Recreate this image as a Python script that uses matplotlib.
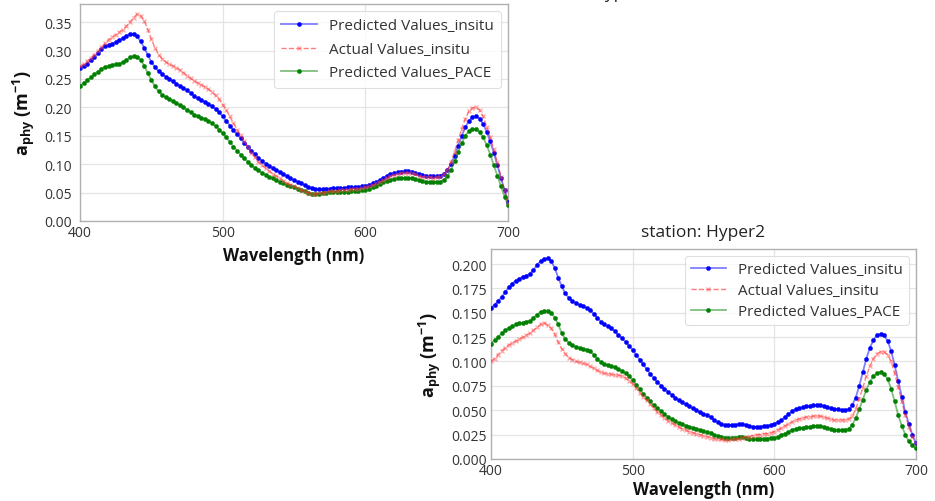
import matplotlib
matplotlib.use("Agg")
import matplotlib.pyplot as plt
import matplotlib.ticker as mticker
import numpy as np

plt.rcParams['font.family'] = ['Open Sans', 'DejaVu Sans']
plt.rcParams['mathtext.default'] = 'regular'

wavelength = np.arange(400, 700.1, 2.5)

# Upper panel (station cropped at top)
top_pred_insitu = [
    0.270, 0.273, 0.277, 0.283, 0.289, 0.295, 0.303, 0.308, 0.310, 0.312,
    0.315, 0.318, 0.322, 0.326, 0.329, 0.330, 0.325, 0.316, 0.305, 0.292,
    0.280, 0.271, 0.264, 0.259, 0.254, 0.250, 0.246, 0.242, 0.238, 0.234,
    0.230, 0.225, 0.220, 0.216, 0.213, 0.210, 0.206, 0.202, 0.197, 0.191,
    0.184, 0.176, 0.168, 0.160, 0.153, 0.146, 0.138, 0.131, 0.124, 0.118,
    0.111, 0.106, 0.101, 0.097, 0.093, 0.089, 0.086, 0.082, 0.079, 0.075,
    0.072, 0.069, 0.066, 0.063, 0.060, 0.058, 0.057, 0.056, 0.056, 0.057,
    0.057, 0.058, 0.058, 0.058, 0.058, 0.059, 0.059, 0.059, 0.060, 0.061,
    0.062, 0.064, 0.066, 0.069, 0.072, 0.076, 0.079, 0.082, 0.084, 0.086,
    0.087, 0.088, 0.088, 0.087, 0.085, 0.083, 0.081, 0.080, 0.079, 0.079,
    0.079, 0.080, 0.083, 0.089, 0.100, 0.115, 0.132, 0.150, 0.165, 0.176,
    0.183, 0.185, 0.180, 0.171, 0.157, 0.140, 0.120, 0.098, 0.076, 0.054,
    0.033]
top_actual_insitu = [
    0.272, 0.276, 0.281, 0.287, 0.293, 0.299, 0.306, 0.313, 0.319, 0.324,
    0.328, 0.332, 0.337, 0.343, 0.350, 0.358, 0.364, 0.361, 0.352, 0.337,
    0.320, 0.305, 0.293, 0.286, 0.280, 0.276, 0.273, 0.270, 0.266, 0.261,
    0.256, 0.251, 0.247, 0.243, 0.240, 0.236, 0.232, 0.227, 0.221, 0.214,
    0.205, 0.195, 0.184, 0.172, 0.161, 0.151, 0.140, 0.130, 0.120, 0.112,
    0.104, 0.098, 0.093, 0.088, 0.083, 0.079, 0.075, 0.071, 0.067, 0.064,
    0.061, 0.058, 0.055, 0.052, 0.050, 0.048, 0.048, 0.049, 0.050, 0.051,
    0.052, 0.053, 0.053, 0.054, 0.055, 0.055, 0.056, 0.057, 0.057, 0.058,
    0.059, 0.061, 0.063, 0.066, 0.069, 0.073, 0.076, 0.079, 0.081, 0.083,
    0.084, 0.085, 0.085, 0.084, 0.082, 0.080, 0.078, 0.077, 0.077, 0.076,
    0.077, 0.078, 0.082, 0.090, 0.104, 0.122, 0.142, 0.162, 0.180, 0.193,
    0.199, 0.200, 0.195, 0.184, 0.166, 0.147, 0.126, 0.103, 0.078, 0.054,
    0.031]
top_pred_pace = [
    0.238, 0.243, 0.248, 0.253, 0.258, 0.263, 0.268, 0.271, 0.273, 0.275,
    0.276, 0.277, 0.279, 0.283, 0.288, 0.290, 0.289, 0.284, 0.273, 0.260,
    0.248, 0.237, 0.228, 0.222, 0.218, 0.214, 0.211, 0.208, 0.204, 0.200,
    0.195, 0.191, 0.187, 0.184, 0.182, 0.179, 0.176, 0.172, 0.167, 0.161,
    0.154, 0.147, 0.139, 0.131, 0.124, 0.117, 0.110, 0.104, 0.098, 0.093,
    0.089, 0.085, 0.081, 0.078, 0.075, 0.072, 0.069, 0.066, 0.064, 0.061,
    0.059, 0.057, 0.055, 0.052, 0.050, 0.048, 0.048, 0.048, 0.049, 0.050,
    0.051, 0.051, 0.051, 0.051, 0.051, 0.051, 0.052, 0.052, 0.053, 0.054,
    0.055, 0.057, 0.059, 0.062, 0.065, 0.068, 0.071, 0.073, 0.074, 0.075,
    0.076, 0.076, 0.076, 0.075, 0.074, 0.072, 0.070, 0.069, 0.069, 0.068,
    0.068, 0.069, 0.072, 0.079, 0.090, 0.105, 0.121, 0.137, 0.150, 0.158,
    0.162, 0.162, 0.157, 0.147, 0.134, 0.117, 0.098, 0.080, 0.061, 0.043,
    0.028]

# Lower panel: station Hyper2
hyp2_pred_insitu = [
    0.155, 0.158, 0.162, 0.166, 0.171, 0.176, 0.180, 0.183, 0.185, 0.187,
    0.188, 0.190, 0.194, 0.199, 0.203, 0.205, 0.206, 0.203, 0.196, 0.186,
    0.177, 0.170, 0.165, 0.162, 0.160, 0.158, 0.157, 0.155, 0.153, 0.149,
    0.145, 0.141, 0.138, 0.136, 0.134, 0.131, 0.127, 0.124, 0.120, 0.116,
    0.112, 0.107, 0.102, 0.097, 0.092, 0.087, 0.083, 0.079, 0.075, 0.072,
    0.069, 0.066, 0.063, 0.060, 0.058, 0.056, 0.054, 0.052, 0.050, 0.048,
    0.046, 0.045, 0.043, 0.040, 0.038, 0.036, 0.035, 0.035, 0.035, 0.035,
    0.036, 0.036, 0.035, 0.034, 0.033, 0.033, 0.033, 0.034, 0.034, 0.035,
    0.036, 0.038, 0.040, 0.043, 0.046, 0.049, 0.051, 0.052, 0.053, 0.054,
    0.054, 0.055, 0.055, 0.055, 0.054, 0.053, 0.052, 0.051, 0.051, 0.050,
    0.050, 0.051, 0.055, 0.063, 0.075, 0.089, 0.103, 0.114, 0.122, 0.127,
    0.128, 0.127, 0.121, 0.111, 0.096, 0.080, 0.064, 0.048, 0.036, 0.025,
    0.016]
hyp2_actual_insitu = [
    0.100, 0.103, 0.107, 0.111, 0.114, 0.117, 0.119, 0.121, 0.123, 0.125,
    0.127, 0.129, 0.132, 0.135, 0.138, 0.140, 0.137, 0.134, 0.128, 0.120,
    0.113, 0.108, 0.104, 0.102, 0.100, 0.099, 0.098, 0.097, 0.095, 0.093,
    0.091, 0.089, 0.088, 0.087, 0.087, 0.086, 0.086, 0.085, 0.083, 0.080,
    0.077, 0.073, 0.068, 0.064, 0.060, 0.056, 0.052, 0.048, 0.045, 0.042,
    0.039, 0.037, 0.035, 0.033, 0.031, 0.030, 0.028, 0.027, 0.026, 0.025,
    0.024, 0.023, 0.022, 0.021, 0.020, 0.020, 0.019, 0.019, 0.020, 0.020,
    0.021, 0.022, 0.023, 0.023, 0.024, 0.025, 0.025, 0.026, 0.026, 0.027,
    0.028, 0.030, 0.032, 0.034, 0.036, 0.038, 0.040, 0.041, 0.042, 0.043,
    0.043, 0.044, 0.044, 0.044, 0.043, 0.042, 0.041, 0.040, 0.040, 0.040,
    0.040, 0.041, 0.044, 0.051, 0.062, 0.073, 0.085, 0.095, 0.103, 0.108,
    0.110, 0.110, 0.107, 0.100, 0.088, 0.074, 0.059, 0.045, 0.033, 0.023,
    0.016]
hyp2_pred_pace = [
    0.118, 0.122, 0.125, 0.129, 0.132, 0.134, 0.136, 0.138, 0.139, 0.140,
    0.141, 0.142, 0.145, 0.148, 0.151, 0.152, 0.152, 0.150, 0.145, 0.138,
    0.129, 0.123, 0.119, 0.117, 0.115, 0.114, 0.113, 0.112, 0.111, 0.107,
    0.103, 0.099, 0.097, 0.096, 0.095, 0.094, 0.092, 0.090, 0.088, 0.085,
    0.081, 0.076, 0.072, 0.067, 0.063, 0.059, 0.055, 0.052, 0.049, 0.046,
    0.043, 0.041, 0.039, 0.037, 0.036, 0.034, 0.033, 0.032, 0.031, 0.030,
    0.029, 0.028, 0.027, 0.025, 0.024, 0.023, 0.022, 0.022, 0.022, 0.022,
    0.023, 0.023, 0.022, 0.021, 0.021, 0.021, 0.021, 0.021, 0.021, 0.022,
    0.022, 0.023, 0.025, 0.026, 0.028, 0.030, 0.031, 0.032, 0.032, 0.033,
    0.033, 0.034, 0.034, 0.034, 0.033, 0.032, 0.031, 0.030, 0.030, 0.030,
    0.030, 0.031, 0.035, 0.042, 0.051, 0.061, 0.071, 0.079, 0.085, 0.088,
    0.089, 0.087, 0.082, 0.072, 0.059, 0.045, 0.034, 0.025, 0.018, 0.014,
    0.011]

series_labels = ["Predicted Values_insitu", "Actual Values_insitu", "Predicted Values_PACE"]
x_ticks = [400, 500, 600, 700]
top_y_ticks = [0.00, 0.05, 0.10, 0.15, 0.20, 0.25, 0.30, 0.35]
hyp2_y_ticks = [0.000, 0.025, 0.050, 0.075, 0.100, 0.125, 0.150, 0.175, 0.200]

for s in (top_pred_insitu, top_actual_insitu, top_pred_pace,
          hyp2_pred_insitu, hyp2_actual_insitu, hyp2_pred_pace):
    if len(s) != len(wavelength):
        raise ValueError(f"length mismatch {len(s)} vs {len(wavelength)}")

fig = plt.figure(figsize=(9.35, 5.02), dpi=100)
ax1 = fig.add_axes([0.0856, 0.5578, 0.4578, 0.4323])
ax2 = fig.add_axes([0.5251, 0.0837, 0.4545, 0.4183])


def draw(ax, pred, act, pace, ymax, yticks, yfmt, ypad, ylabelpad, xlabelpad,
         lspace, bpad):
    ax.plot(wavelength, pred, color=(0, 0, 1, 0.5), marker='o', markersize=3.0,
            linewidth=1.3, markerfacecolor='blue', markeredgecolor='blue',
            markeredgewidth=0.3, label=series_labels[0], zorder=3)
    ax.plot(wavelength, act, color=(1, 0, 0, 0.5), marker='x', markersize=2.5,
            linewidth=1.0, linestyle='--', markeredgecolor=(1, 0.3, 0.3, 0.45),
            label=series_labels[1], zorder=4)
    ax.plot(wavelength, pace, color=(0, 0.5, 0, 0.5), marker='o', markersize=3.0,
            linewidth=1.3, markerfacecolor='green', markeredgecolor='green',
            markeredgewidth=0.3, label=series_labels[2], zorder=3)
    ax.set_xlim(400, 700)
    ax.set_ylim(0, ymax)
    ax.set_xticks(x_ticks)
    ax.set_yticks(yticks)
    ax.yaxis.set_major_formatter(mticker.FormatStrFormatter(yfmt))
    ax.grid(True, color='#e4e4e4', linewidth=0.9)
    ax.set_axisbelow(True)
    ax.tick_params(axis='both', length=0, labelsize=10, colors='#333333')
    ax.tick_params(axis='y', pad=ypad)
    ax.tick_params(axis='x', pad=3)
    for sp in ax.spines.values():
        sp.set_color('#b0b0b0')
        sp.set_linewidth(1.0)
    ax.set_xlabel("Wavelength (nm)", fontsize=12, fontweight='bold',
                  labelpad=xlabelpad, color='#111111')
    ax.set_ylabel("a$_{phy}$ (m$^{-1}$)", fontsize=13, fontweight='bold',
                  labelpad=ylabelpad, color='#111111')
    leg = ax.legend(loc='upper right', fontsize=11, frameon=True, borderpad=bpad,
                    handlelength=2.3, labelspacing=lspace, handletextpad=0.8,
                    borderaxespad=0.45, fancybox=True)
    leg.get_frame().set_edgecolor('#d8d8d8')
    leg.get_frame().set_linewidth(0.8)
    for t in leg.get_texts():
        t.set_color('#333333')


draw(ax1, top_pred_insitu, top_actual_insitu, top_pred_pace, 0.382,
     top_y_ticks, '%.2f', 6, 5, 4, 0.55, 0.5)
draw(ax2, hyp2_pred_insitu, hyp2_actual_insitu, hyp2_pred_pace, 0.2154,
     hyp2_y_ticks, '%.3f', 3, 6, 1, 0.4, 0.4)
ax2.set_title("station: Hyper2", fontsize=12.5, color='#222222', pad=9)

# title of a neighbouring panel, cut off at the top edge of the image
fig.text(0.63, 1.0 + 1.5 / 502, "station: Hyper1", ha='center', va='baseline',
         fontsize=12.5, color='#222222')

fig.savefig("out.png", dpi=100)
